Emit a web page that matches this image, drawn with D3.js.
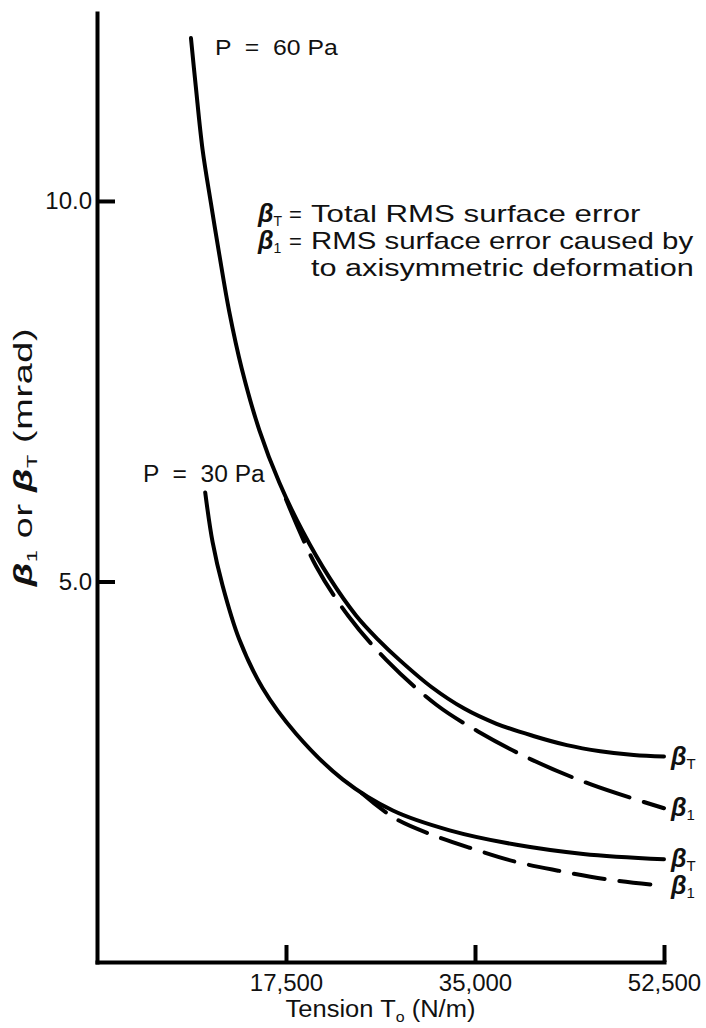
<!DOCTYPE html>
<html>
<head>
<meta charset="utf-8">
<script src="https://cdn.jsdelivr.net/npm/d3@7"></script>
<style>
  body { margin: 0; background: #fff; }
  svg { display: block; }
  text { font-family: "Liberation Sans", Arial, Helvetica, sans-serif; fill: #111; }
</style>
</head>
<body>
<script>
// Axis ticks
const xTicks = [17500, 35000, 52500];
const yTicks = [5.0, 10.0];

// P = 60 Pa, total RMS surface error (beta_T)
const t60Total = [8700, 9150, 9770, 10550, 11320, 12240, 13400, 15030, 16880, 19040, 21520, 24000, 26000, 28000, 31000, 34000, 37000, 40400, 43500, 46600, 49700, 52500];
const b60Total = [12.14, 11.50, 10.68, 9.97, 9.30, 8.55, 7.80, 6.99, 6.30, 5.66, 5.05, 4.55, 4.24, 3.97, 3.61, 3.33, 3.13, 2.97, 2.85, 2.77, 2.72, 2.70];

// P = 60 Pa, error from axisymmetric deformation (beta_1)
const t60Axi = [17500, 20290, 23310, 26780, 31420, 35280, 40230, 45800, 52500];
const b60Axi = [6.08, 5.20, 4.54, 3.97, 3.38, 3.03, 2.66, 2.33, 2.02];

// P = 30 Pa, total RMS surface error (beta_T)
const t30Total = [10020, 10700, 11620, 13170, 15330, 18430, 22750, 27390, 32650, 38840, 45020, 52500];
const b30Total = [6.17, 5.52, 4.95, 4.24, 3.60, 3.00, 2.40, 1.99, 1.73, 1.54, 1.42, 1.35];

// P = 30 Pa, error from axisymmetric deformation (beta_1)
const t30Axi = [24500, 27550, 31420, 34970, 38680, 42700, 47490, 52500];
const b30Axi = [2.22, 1.89, 1.65, 1.48, 1.32, 1.20, 1.08, 1.00];

const xMax = 52500;
const yMax = 12.47;

const W = 706, H = 1028;
const svg = d3.select("body").append("svg").attr("width", W).attr("height", H);

const x = d3.scaleLinear().domain([0, xMax]).range([97, 664]);
const y = d3.scaleLinear().domain([0, yMax]).range([962, 13]);

const axisStroke = 4;

// y axis: ticks point into the plot
const gy = svg.append("g").attr("transform", `translate(${x(0)},0)`)
  .call(d3.axisLeft(y).tickValues(yTicks).tickSizeInner(-18).tickSizeOuter(0)
    .tickPadding(5).tickFormat(d3.format(".1f")));
// x axis
const gx = svg.append("g").attr("transform", `translate(0,${y(0)})`)
  .call(d3.axisBottom(x).tickValues(xTicks).tickSizeInner(-17).tickSizeOuter(0)
    .tickPadding(12).tickFormat(d3.format(",")));

[gy, gx].forEach(g => {
  g.select(".domain").attr("stroke", "#000").attr("stroke-width", axisStroke).attr("stroke-linecap", "square");
  g.selectAll(".tick line").attr("stroke", "#000").attr("stroke-width", axisStroke);
  g.selectAll(".tick text").attr("font-size", 24).attr("fill", "#111")
    .attr("font-family", "Liberation Sans, Arial, Helvetica, sans-serif");
});

// Text set in a wide face: widen it (mostly stretch, any rest as tracking) to the given width.
const maxStretch = 1.45;
function wideText(x0, y0, size, width, anchor, build, rotate) {
  const g = svg.append("g");
  const t = g.append("text").attr("font-size", size).attr("text-anchor", anchor)
    .style("white-space", "pre");
  build(t);
  let w = t.node().getBBox().width;
  if (width / w > maxStretch) {
    const n = t.text().length;
    const ls = (width / maxStretch - w) / n;
    t.attr("letter-spacing", ls);
    w = t.node().getBBox().width;
  }
  const s = width / w;
  g.attr("transform", `translate(${x0},${y0})${rotate ? ` rotate(${rotate})` : ""} scale(${s},1)`);
  return g;
}
function beta(t, sub, subSize, dy) {
  t.append("tspan").attr("font-style", "italic").attr("font-weight", "bold").text("β");
  t.append("tspan").attr("font-size", subSize).attr("dy", dy).text(sub);
}

// axis titles
wideText((x(0) + x(xMax)) / 2, 1017, 24, 190, "middle", t => {
  t.append("tspan").text("Tension T");
  t.append("tspan").attr("font-size", 15).attr("dy", 5).text("o");
  t.append("tspan").attr("dy", -5).text(" (N/m)");
});
wideText(32, 457, 26, 260, "middle", t => {
  beta(t, "1", 15, 5);
  t.append("tspan").attr("dy", -5).text(" or ");
  beta(t, "T", 15, 5);
  t.append("tspan").attr("dy", -5).text(" (mrad)");
}, -90);

// curves
const line = d3.line().x(d => x(d[0])).y(d => y(d[1])).curve(d3.curveCatmullRom.alpha(0.5));
const series = [
  { t: t60Total, b: b60Total, dash: null, label: "T" },
  { t: t60Axi, b: b60Axi, dash: "46,15", label: "1" },
  { t: t30Total, b: b30Total, dash: null, label: "T" },
  { t: t30Axi, b: b30Axi, dash: "31,15", label: "1" }
];
series.forEach(s => {
  const pts = d3.zip(s.t, s.b);
  svg.append("path").datum(pts).attr("d", line)
    .attr("fill", "none").attr("stroke", "#000").attr("stroke-width", 4)
    .attr("stroke-linecap", "round")
    .attr("stroke-dasharray", s.dash);
  const last = pts[pts.length - 1];
  const lab = svg.append("text").attr("x", x(last[0]) + 7).attr("y", y(last[1]) + 8)
    .attr("font-size", 25);
  beta(lab, s.label, 15, 4);
});

// pressure labels
wideText(215, 55, 23, 123, "start", t => t.text("P  =  60 Pa"));
wideText(143, 482, 23, 122, "start", t => t.text("P  =  30 Pa"));

// legend
const legendRows = [
  { sym: "T", text: "Total RMS surface error", width: 330 },
  { sym: "1", text: "RMS surface error caused by", width: 383 },
  { sym: null, text: "to axisymmetric deformation", width: 383 }
];
legendRows.forEach((r, i) => {
  const by = 222 + i * 27;
  if (r.sym) {
    const s = svg.append("text").attr("x", 258).attr("y", by).attr("font-size", 25);
    beta(s, r.sym, 14, 4);
    svg.append("text").attr("x", 289).attr("y", by).attr("font-size", 22).text("=");
  }
  wideText(311, by, 23, r.width, "start", t => t.text(r.text));
});
</script>
</body>
</html>
